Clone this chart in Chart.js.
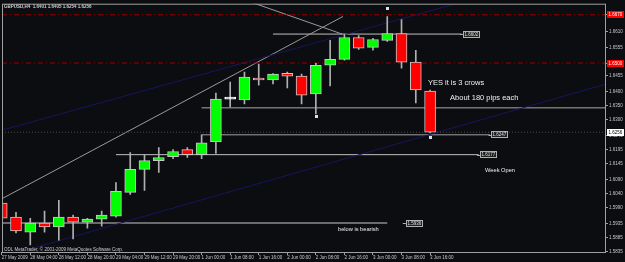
<!DOCTYPE html>
<html>
<head>
<meta charset="utf-8">
<script src="https://cdn.jsdelivr.net/npm/chart.js@4.4.0/dist/chart.umd.min.js"></script>
<style>
html, body { margin: 0; padding: 0; background: #0c0d11; }
canvas { display: block; }
</style>
</head>
<body>
<canvas id="chart" width="625" height="262"></canvas>
<script>
// GBPUSD H4, 27 May - 3 Jun 2009
const xLabels = ['27 May 2009', '28 May 04:00', '28 May 12:00', '28 May 20:00', '29 May 04:00', '29 May 12:00',
    '29 May 20:00', '1 Jun 00:00', '1 Jun 08:00', '1 Jun 16:00', '2 Jun 00:00', '2 Jun 08:00', '2 Jun 16:00',
    '3 Jun 00:00', '3 Jun 08:00', '3 Jun 16:00'];
const yTicks = [1.5835, 1.5885, 1.5935, 1.5990, 1.6040, 1.6090, 1.6145, 1.6195, 1.6245, 1.6300,
    1.6350, 1.6400, 1.6455, 1.6500, 1.6555, 1.6610, 1.6670];

const opens  = [1.6006, 1.5957, 1.5904, 1.5936, 1.5922, 1.5957, 1.5939, 1.5950, 1.5960, 1.6044, 1.6125, 1.6156,
    1.6170, 1.6195, 1.6177, 1.6223, 1.6373, 1.6370, 1.6447, 1.6440, 1.6464, 1.6454, 1.6391, 1.6492, 1.6513,
    1.6590, 1.6555, 1.6580, 1.6604, 1.6503, 1.6401];
const highs  = [1.6009, 1.5974, 1.5953, 1.5978, 1.6016, 1.5964, 1.5953, 1.5978, 1.6079, 1.6184, 1.6177, 1.6202,
    1.6195, 1.6202, 1.6247, 1.6394, 1.6433, 1.6468, 1.6496, 1.6463, 1.6468, 1.6461, 1.6499, 1.6580, 1.6601,
    1.6597, 1.6587, 1.6664, 1.6653, 1.6545, 1.6405];
const lows   = [1.5950, 1.5901, 1.5859, 1.5904, 1.5876, 1.5880, 1.5918, 1.5925, 1.5957, 1.6037, 1.6051, 1.6114,
    1.6163, 1.6167, 1.6163, 1.6181, 1.6345, 1.6356, 1.6422, 1.6426, 1.6412, 1.6356, 1.6321, 1.6419, 1.6510,
    1.6548, 1.6545, 1.6576, 1.6482, 1.6359, 1.6254];
const closes = [1.5953, 1.5908, 1.5936, 1.5922, 1.5957, 1.5939, 1.5950, 1.5964, 1.6048, 1.6125, 1.6156, 1.6167,
    1.6188, 1.6177, 1.6219, 1.6373, 1.6373, 1.6450, 1.6440, 1.6461, 1.6454, 1.6387, 1.6492, 1.6513, 1.6590,
    1.6552, 1.6583, 1.6604, 1.6503, 1.6405, 1.6256];

// horizontal line objects (price, from bar, to bar)
const levels    = [1.6602, 1.6342, 1.6247, 1.6177, 1.5936];
const levelFrom = [19.0, 14.0, 14.0, 8.0, -0.2];
const levelTo   = [32.2, 42.4, 34.2, 33.4, 27.0];
const levelTagAt = [32.3, null, 34.3, 33.5, 28.3];
const redLevels = [1.6670, 1.6500];
const bidPrice = 1.6256;

// trend lines: [bar, price] pairs
const channelUpper = [[-0.2, 1.6260], [33.0, 1.6726]];
const channelLower = [[0.0, 1.5816], [42.4, 1.6427]];
const grayRising   = [[-0.2, 1.6016], [23.9, 1.6664]];
const grayFalling  = [[15.5, 1.6749], [23.9, 1.6601]];

const fractalX = [27, 22, 30];
const fractalY = [1.6695, 1.6314, 1.6240];

const noteText = ['YES it is 3 crows', 'About 180 pips each', 'below is bearish', 'Week Open'];
const noteX    = [29.85, 31.4, 23.55, 33.85];
const noteY    = [1.6429, 1.6377, 1.5915, 1.6121];
const noteSize = [7.5, 7.5, 5.7, 5.7];

const X_MIN = 0.02, X_MAX = 42.32;
const Y_MIN = 1.5834, Y_MAX = 1.6709;
const FONT = "'Liberation Sans', Arial, sans-serif";

function seg(points, color, width, dash, order) {
    return {
        type: 'line',
        data: points.map(p => ({ x: p[0], y: p[1] })),
        borderColor: color,
        borderWidth: width,
        borderDash: dash || [],
        pointRadius: 0,
        order: order || 5
    };
}

const bodyColors = opens.map((o, i) => closes[i] > o ? '#00ff00' : closes[i] < o ? '#ff0000' : '#ffffff');

const datasets = [
    {
        type: 'bar',
        data: opens.map((o, i) => ({ x: i, y: [o, closes[i]] })),
        backgroundColor: bodyColors,
        borderColor: opens.map((o, i) => o === closes[i] ? '#ffffff' : '#c8c8c8'),
        borderWidth: 1,
        borderSkipped: false,
        barThickness: 11,
        minBarLength: 2,
        grouped: false,
        order: 0
    },
    {
        type: 'bar',
        data: lows.map((l, i) => ({ x: i, y: [l, highs[i]] })),
        backgroundColor: '#b0b0b0',
        borderWidth: 0,
        barThickness: 1,
        grouped: false,
        order: 1
    },
    seg([[X_MIN, redLevels[0]], [X_MAX, redLevels[0]]], '#9a0000', 1, [5, 3, 1, 3]),
    seg([[X_MIN, redLevels[1]], [X_MAX, redLevels[1]]], '#9a0000', 1, [5, 3, 1, 3]),
    seg([[X_MIN, bidPrice], [X_MAX, bidPrice]], '#4a4a4a', 1, [1, 2]),
    seg(channelUpper, '#16165c', 1),
    seg(channelLower, '#16165c', 1),
    seg(grayRising, '#9a9a9a', 1),
    seg(grayFalling, '#9a9a9a', 1),
    seg([[levelFrom[0], levels[0]], [levelTo[0], levels[0]]], '#c0c0c0', 1),
    seg([[levelFrom[1], levels[1]], [levelTo[1], levels[1]]], '#a8a8a8', 1),
    seg([[levelFrom[2], levels[2]], [levelTo[2], levels[2]]], '#a0a0a0', 1),
    seg([[levelFrom[3], levels[3]], [levelTo[3], levels[3]]], '#c0c0c0', 1),
    seg([[levelFrom[4], levels[4]], [levelTo[4], levels[4]]], '#6a6a6a', 2)
];

function tagBox(ctx, x, y, text, bg, fg, border, size) {
    ctx.font = size + 'px ' + FONT;
    const w = Math.ceil(ctx.measureText(text).width) + 3;
    const h = Math.round(size + 2);
    const left = Math.round(x), top = Math.round(y - h / 2);
    ctx.fillStyle = bg;
    ctx.fillRect(left, top, w, h);
    if (border) {
        ctx.strokeStyle = border;
        ctx.lineWidth = 1;
        ctx.strokeRect(left + 0.5, top + 0.5, w - 1, h - 1);
    }
    ctx.fillStyle = fg;
    ctx.textAlign = 'left';
    ctx.textBaseline = 'middle';
    ctx.fillText(text, left + 1.5, top + h / 2 + 0.5);
}

const mt4Plugin = {
    id: 'mt4',
    beforeDraw(chart) {
        const ctx = chart.ctx;
        ctx.save();
        ctx.fillStyle = '#0c0d11';
        ctx.fillRect(0, 0, chart.width, chart.height);
        ctx.restore();
    },
    afterDatasetsDraw(chart) {
        const ctx = chart.ctx;
        const xs = chart.scales.x, ys = chart.scales.y;
        const area = chart.chartArea;
        ctx.save();
        ctx.beginPath();
        ctx.rect(area.left, area.top, area.right - area.left, area.bottom - area.top);
        ctx.clip();

        // fractal marks
        ctx.fillStyle = '#e0e0e0';
        fractalX.forEach((fx, i) => {
            const px = xs.getPixelForValue(fx), py = ys.getPixelForValue(fractalY[i]);
            ctx.fillRect(Math.round(px) - 1, Math.round(py) - 1, 3, 3);
        });

        // notes
        ctx.fillStyle = '#f0f0f0';
        ctx.textAlign = 'left';
        ctx.textBaseline = 'middle';
        noteText.forEach((t, i) => {
            ctx.font = noteSize[i] + 'px ' + FONT;
            ctx.fillText(t, xs.getPixelForValue(noteX[i]), ys.getPixelForValue(noteY[i]));
        });

        // price tags at line ends
        levels.forEach((lv, i) => {
            if (levelTagAt[i] === null) return;
            const px = xs.getPixelForValue(levelTagAt[i]), py = ys.getPixelForValue(lv);
            ctx.strokeStyle = '#b0b0b0';
            ctx.beginPath();
            ctx.moveTo(px - 3, Math.round(py) + 0.5);
            ctx.lineTo(px, Math.round(py) + 0.5);
            ctx.stroke();
            tagBox(ctx, px, py, lv.toFixed(4), '#202020', '#e0e0e0', '#b0b0b0', 4.5);
        });

        // title and copyright
        ctx.fillStyle = '#d0d0d0';
        ctx.font = 'bold 4.5px ' + FONT;
        ctx.textBaseline = 'middle';
        ctx.fillText('GBPUSD,H4  ' + opens[30].toFixed(4) + ' ' + highs[30].toFixed(4) + ' ' +
            lows[30].toFixed(4) + ' ' + closes[30].toFixed(4), area.left + 2, area.top + 3);
        ctx.font = '4.5px ' + FONT;
        ctx.fillText('ODL MetaTrader, \u00a9 2001-2009 MetaQuotes Software Corp.', area.left + 2, area.bottom - 2);
        ctx.restore();
    },
    afterDraw(chart) {
        const ctx = chart.ctx;
        const ys = chart.scales.y;
        const area = chart.chartArea;
        ctx.save();
        // chart frame
        ctx.strokeStyle = '#a0a0a0';
        ctx.lineWidth = 1;
        ctx.strokeRect(area.left + 0.5, area.top + 0.5, area.right - area.left - 1, area.bottom - area.top);
        // axis price boxes
        redLevels.forEach(lv => tagBox(ctx, area.right + 1, ys.getPixelForValue(lv), lv.toFixed(4), '#ff0000', '#ffffff', null, 4.5));
        tagBox(ctx, area.right + 1, ys.getPixelForValue(bidPrice), bidPrice.toFixed(4), '#ffffff', '#000000', null, 4.5);
        ctx.restore();
    }
};

new Chart(document.getElementById('chart'), {
    type: 'bar',
    data: { datasets: datasets },
    options: {
        responsive: false,
        animation: false,
        layout: { padding: { left: 2, top: 2, right: 0, bottom: 0 } },
        plugins: { legend: { display: false }, tooltip: { enabled: false } },
        scales: {
            x: {
                type: 'linear',
                min: X_MIN,
                max: X_MAX,
                offset: false,
                grid: { display: true, drawOnChartArea: false, offset: false, color: '#a0a0a0', tickLength: 3 },
                border: { display: false },
                afterBuildTicks: axis => { axis.ticks = xLabels.map((_, i) => ({ value: i * 2 })); },
                afterFit: axis => { axis.height = 10; },
                ticks: {
                    autoSkip: false,
                    maxRotation: 0,
                    align: 'start',
                    padding: 0,
                    color: '#c8c8c8',
                    font: { family: FONT, size: 4.5 },
                    callback: (v, i) => xLabels[i]
                }
            },
            y: {
                position: 'right',
                min: Y_MIN,
                max: Y_MAX,
                grid: { display: true, drawOnChartArea: false, color: '#a0a0a0', tickLength: 2 },
                border: { display: false },
                afterBuildTicks: axis => { axis.ticks = yTicks.map(v => ({ value: v })); },
                afterFit: axis => { axis.width = 19; },
                ticks: {
                    padding: 1,
                    color: '#c8c8c8',
                    font: { family: FONT, size: 4.5 },
                    callback: v => v.toFixed(4)
                }
            }
        }
    },
    plugins: [mt4Plugin]
});
</script>
</body>
</html>
